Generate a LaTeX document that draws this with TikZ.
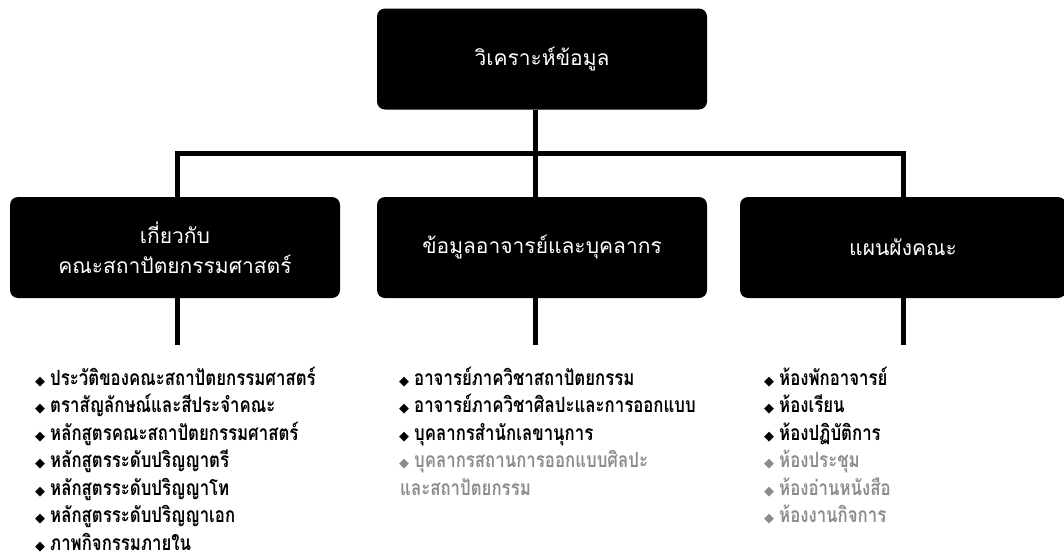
\documentclass[tikz,border=0pt]{standalone}
\usepackage{fontspec}
\setmainfont[Script=Thai]{Loma}
\newfontfamily\listfont[Script=Thai,FakeStretch=0.8]{Loma}
\newfontfamily\symfont{DejaVu Sans}
\newcommand{\itm}{{\symfont\fontsize{13}{13}\selectfont ◆}\hspace{5pt}}

\begin{document}
\begin{tikzpicture}[x=1pt,y=-1pt]
\tikzset{
  headbox/.style={rectangle,rounded corners=8pt,fill=black,text=white,minimum width=330pt,minimum height=101pt,align=center,font=\fontsize{21}{30}\selectfont},
  branch/.style={line width=5pt},
  listitem/.style={anchor=base west,inner sep=0pt,font=\listfont\bfseries\fontsize{21}{25}\selectfont},
  faded/.style={listitem,text=black!45}
}
\useasboundingbox (0,0) rectangle (1064,557);
\node[headbox] (n_root) at (542,59) {วิเคราะห์ข้อมูล};
\node[headbox] (n_about) at (175,247.5) {เกี่ยวกับ\\คณะสถาปัตยกรรมศาสตร์};
\node[headbox] (n_staff) at (542,247.5) {ข้อมูลอาจารย์และบุคลากร};
\node[headbox,minimum width=326pt] (n_plan) at (903,247.5) {แผนผังคณะ};
\coordinate (c_bus) at (535,153);
\coordinate (c_about) at (177,345);
\coordinate (c_staff) at (535,345);
\coordinate (c_plan) at (903,345);
\draw[branch] (c_bus |- n_root.south) -- (c_bus);
\draw[branch] (c_about |- n_about.north) |- (c_bus) -| (c_plan |- n_plan.north);
\draw[branch] (c_bus) -- (c_staff |- n_staff.north);
\draw[branch] (c_about |- n_about.south) -- (c_about);
\draw[branch] (c_staff |- n_staff.south) -- (c_staff);
\draw[branch] (c_plan |- n_plan.south) -- (c_plan);
% about the faculty
\node[listitem] (n_a1) at (35,385) {\itm ประวัติของคณะสถาปัตยกรรมศาสตร์};
\node[listitem] (n_a2) at (35,412.5) {\itm ตราสัญลักษณ์และสีประจำคณะ};
\node[listitem] (n_a3) at (35,440) {\itm หลักสูตรคณะสถาปัตยกรรมศาสตร์};
\node[listitem] (n_a4) at (35,467.5) {\itm หลักสูตรระดับปริญญาตรี};
\node[listitem] (n_a5) at (35,495) {\itm หลักสูตรระดับปริญญาโท};
\node[listitem] (n_a6) at (35,522.5) {\itm หลักสูตรระดับปริญญาเอก};
\node[listitem] (n_a7) at (35,550) {\itm ภาพกิจกรรมภายใน};
% staff
\node[listitem] (n_s1) at (399,385) {\itm อาจารย์ภาควิชาสถาปัตยกรรม};
\node[listitem] (n_s2) at (399,412.5) {\itm อาจารย์ภาควิชาศิลปะและการออกแบบ};
\node[listitem] (n_s3) at (399,440) {\itm บุคลากรสำนักเลขานุการ};
\node[faded] (n_s4) at (399,467.5) {\itm บุคลากรสถานการออกแบบศิลปะ};
\node[faded] (n_s5) at (400,495) {และสถาปัตยกรรม};
% rooms
\node[listitem] (n_p1) at (764,385) {\itm ห้องพักอาจารย์};
\node[listitem] (n_p2) at (764,412.5) {\itm ห้องเรียน};
\node[listitem] (n_p3) at (764,440) {\itm ห้องปฏิบัติการ};
\node[faded] (n_p4) at (764,467.5) {\itm ห้องประชุม};
\node[faded] (n_p5) at (764,495) {\itm ห้องอ่านหนังสือ};
\node[faded] (n_p6) at (764,522.5) {\itm ห้องงานกิจการ};
\end{tikzpicture}
\end{document}
